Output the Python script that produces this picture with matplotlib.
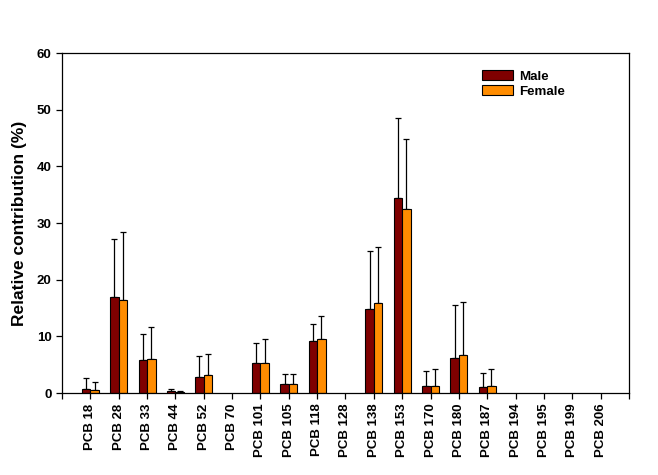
import matplotlib.pyplot as plt
import numpy as np

plt.rcParams["font.family"] = ["Liberation Sans", "DejaVu Sans"]

congeners = ["PCB 18", "PCB 28", "PCB 33", "PCB 44", "PCB 52", "PCB 70",
             "PCB 101", "PCB 105", "PCB 118", "PCB 128", "PCB 138", "PCB 153",
             "PCB 170", "PCB 180", "PCB 187", "PCB 194", "PCB 195", "PCB 199",
             "PCB 206"]
male = [0.65, 16.9, 5.8, 0.3, 2.8, 0, 5.35, 1.6, 9.2, 0, 14.8, 34.4,
        1.2, 6.1, 1.0, 0, 0, 0, 0]
female = [0.5, 16.5, 6.0, 0.1, 3.2, 0, 5.3, 1.6, 9.6, 0, 15.8, 32.4,
          1.2, 6.7, 1.2, 0, 0, 0, 0]
male_sd = [1.95, 10.2, 4.7, 0.4, 3.8, 0, 3.45, 1.7, 2.9, 0, 10.3, 14.1,
           2.7, 9.5, 2.5, 0, 0, 0, 0]
female_sd = [1.5, 12.0, 5.6, 0.3, 3.7, 0, 4.3, 1.7, 4.0, 0, 10.0, 12.4,
             3.0, 9.4, 3.0, 0, 0, 0, 0]

fig = plt.figure(figsize=(6.58, 4.75), dpi=100)
ax = fig.add_axes([0.0942, 0.1726, 0.8617, 0.7158])

x = np.arange(1, len(congeners) + 1)
w = 0.3
has = np.array(male) > 0
hasf = np.array(female) > 0

ax.bar(x[has] - w / 2, np.array(male)[has], width=w, color="#7f0000",
       edgecolor="black", linewidth=0.8, label="Male", zorder=2)
ax.bar(x[hasf] + w / 2, np.array(female)[hasf], width=w, color="#ff8c00",
       edgecolor="black", linewidth=0.8, label="Female", zorder=2)

ax.errorbar(x[has] - w / 2, np.array(male)[has],
            yerr=[np.zeros(has.sum()), np.array(male_sd)[has]],
            fmt="none", ecolor="black", elinewidth=0.9, capsize=2.5,
            capthick=0.9, zorder=1)
ax.errorbar(x[hasf] + w / 2, np.array(female)[hasf],
            yerr=[np.zeros(hasf.sum()), np.array(female_sd)[hasf]],
            fmt="none", ecolor="black", elinewidth=0.9, capsize=2.5,
            capthick=0.9, zorder=1)

ax.set_xlim(0, 20)
ax.set_ylim(0, 60)
ax.set_xticks(np.arange(0, 21))
ax.set_xticklabels([""] + congeners + [""], rotation=90, fontsize=9.5,
                   fontweight="bold")
ax.set_yticks(np.arange(0, 61, 10))
ax.set_yticklabels([str(v) for v in range(0, 61, 10)], fontsize=9.5,
                   fontweight="bold")
ax.tick_params(direction="out", length=4, width=0.9)
ax.set_ylabel("Relative contribution (%)", fontsize=12.5, fontweight="bold",
              labelpad=7)
for s in ax.spines.values():
    s.set_linewidth(0.9)

ax.legend(loc="upper left", bbox_to_anchor=(0.72, 0.985), frameon=False,
          prop={"weight": "bold", "size": 9.6}, handlelength=2.3,
          handleheight=0.75, labelspacing=0.2, handletextpad=0.5)

fig.savefig("out.png", dpi=100)
